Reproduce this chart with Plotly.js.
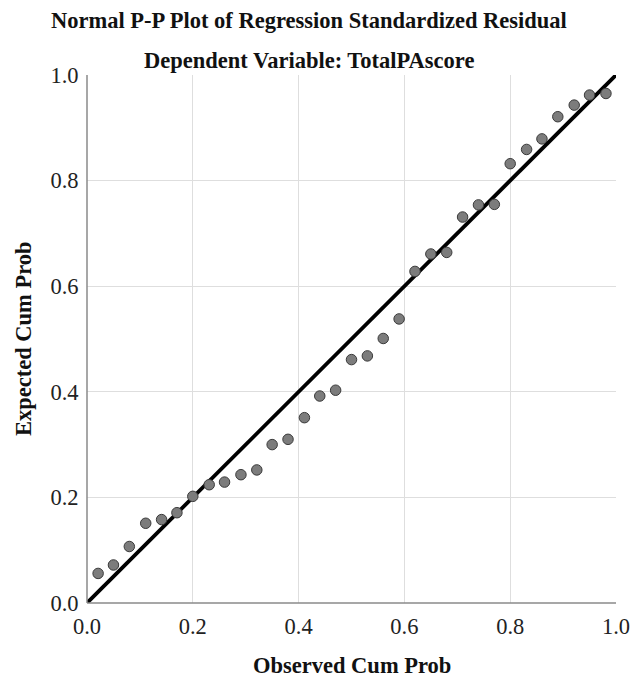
<!DOCTYPE html>
<html>
<head>
<meta charset="utf-8">
<script src="https://cdn.plot.ly/plotly-3.0.1.min.js"></script>
<style>html,body{margin:0;padding:0;background:#fff;}#chart{width:634px;height:681px;}</style>
</head>
<body>
<div id="chart"></div>
<script>
const observedCumProb = [0.021,0.050,0.080,0.111,0.141,0.170,0.200,0.231,0.260,0.291,0.321,0.350,0.380,0.411,0.440,0.470,0.500,0.530,0.560,0.590,0.620,0.650,0.680,0.710,0.740,0.770,0.800,0.831,0.860,0.890,0.921,0.950,0.981];
const expectedCumProb = [0.056,0.072,0.107,0.151,0.158,0.171,0.202,0.224,0.229,0.243,0.252,0.300,0.310,0.351,0.392,0.403,0.461,0.468,0.501,0.538,0.628,0.661,0.664,0.731,0.754,0.755,0.832,0.859,0.879,0.921,0.943,0.962,0.965];
const refLineX = [0, 1];
const refLineY = [0, 1];
const tickVals = [0, 0.2, 0.4, 0.6, 0.8, 1.0];
const tickText = ['0.0','0.2','0.4','0.6','0.8','1.0'];
const titleLine1 = 'Normal P-P Plot of Regression Standardized Residual';
const titleLine2 = 'Dependent Variable: TotalPAscore';
const xTitle = 'Observed Cum Prob';
const yTitle = 'Expected Cum Prob';

const serif = 'Liberation Serif, Times New Roman, serif';

const traces = [
  {
    x: refLineX, y: refLineY, mode: 'lines', type: 'scatter',
    line: {color: '#000', width: 3.8}, hoverinfo: 'skip', cliponaxis: false
  },
  {
    x: observedCumProb, y: expectedCumProb, mode: 'markers', type: 'scatter',
    marker: {size: 10.5, color: '#7c7c7c', line: {color: '#3a3a3a', width: 1}},
    cliponaxis: false
  }
];

const axisCommon = {
  range: [0, 1], tickvals: tickVals, ticktext: tickText,
  showgrid: true, gridcolor: '#dedede', gridwidth: 1,
  zeroline: false, showline: false,
  ticks: 'outside', ticklen: 3, tickcolor: 'rgba(0,0,0,0)',
  tickfont: {family: serif, size: 22.5, color: '#222'},
  fixedrange: true
};

const layout = {
  width: 634, height: 681,
  margin: {l: 87, r: 18, t: 75, b: 78, pad: 0},
  paper_bgcolor: '#fff', plot_bgcolor: '#fff',
  showlegend: false,
  font: {family: serif, color: '#111'},
  xaxis: Object.assign({}, axisCommon),
  yaxis: Object.assign({}, axisCommon),
  shapes: [
    {type: 'line', xref: 'paper', yref: 'paper', x0: 0, x1: 0, y0: 0, y1: 1, line: {color: '#8a8a8a', width: 1.5}},
    {type: 'line', xref: 'paper', yref: 'paper', x0: 0, x1: 1, y0: 0, y1: 0, line: {color: '#8a8a8a', width: 1.5}}
  ],
  annotations: [
    {text: '<b>' + titleLine1 + '</b>', xref: 'paper', yref: 'paper', x: 0.42, y: 1, yshift: 55,
     xanchor: 'center', yanchor: 'middle', showarrow: false, font: {family: serif, size: 22.5, color: '#111'}},
    {text: '<b>' + titleLine2 + '</b>', xref: 'paper', yref: 'paper', x: 0.42, y: 1, yshift: 15,
     xanchor: 'center', yanchor: 'middle', showarrow: false, font: {family: serif, size: 22.5, color: '#111'}},
    {text: '<b>' + xTitle + '</b>', xref: 'paper', yref: 'paper', x: 0.5, y: 0, yshift: -62,
     xanchor: 'center', yanchor: 'middle', showarrow: false, font: {family: serif, size: 22.5, color: '#111'}},
    {text: '<b>' + yTitle + '</b>', xref: 'paper', yref: 'paper', x: 0, y: 0.5, xshift: -64, textangle: -90,
     xanchor: 'center', yanchor: 'middle', showarrow: false, font: {family: serif, size: 22.5, color: '#111'}}
  ]
};

Plotly.newPlot('chart', traces, layout, {displayModeBar: false, staticPlot: true});
</script>
</body>
</html>
